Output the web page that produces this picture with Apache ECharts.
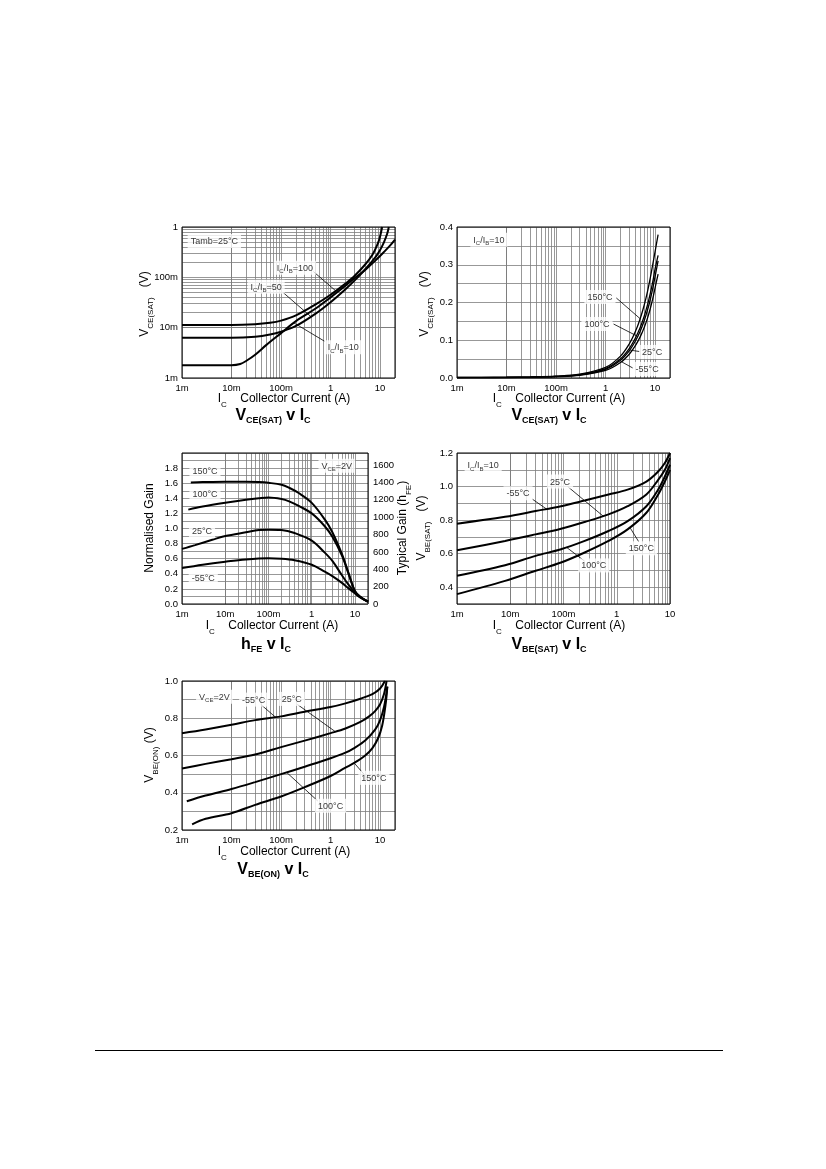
<!DOCTYPE html>
<html>
<head>
<meta charset="utf-8">
<title>Typical characteristics</title>
<script src="https://cdn.jsdelivr.net/npm/echarts@6/dist/echarts.min.js"></script>
<style>
  html, body { margin: 0; padding: 0; background: #fff; }
  #page { width: 826px; height: 1169px; }
</style>
</head>
<body>
<div id="page"></div>
<script>
const FONT = "'Liberation Sans', Arial, Helvetica, sans-serif";

// VCE(SAT) v IC at Tamb=25°C, one curve per IC/IB ratio
const satIb100I = [0.001, 0.01, 0.03, 0.06, 0.1, 0.2, 0.5, 1, 2, 3, 5, 7, 9, 10, 11];
const satIb100V = [0.0113, 0.0113, 0.0117, 0.0125, 0.0138, 0.0175, 0.029, 0.045, 0.075, 0.105, 0.18, 0.28, 0.47, 0.65, 1.0];
const satIb50I = [0.001, 0.01, 0.03, 0.06, 0.1, 0.2, 0.5, 1, 2, 3, 5, 8, 10, 12, 14, 15];
const satIb50V = [0.0063, 0.0063, 0.0066, 0.0073, 0.0083, 0.0108, 0.019, 0.032, 0.058, 0.085, 0.145, 0.25, 0.35, 0.5, 0.75, 1.0];
const satIb10I = [0.001, 0.01, 0.015, 0.02, 0.03, 0.05, 0.1, 0.2, 0.5, 1, 2, 3, 5, 8, 12, 16, 20];
const satIb10V = [0.0018, 0.0018, 0.0019, 0.0022, 0.0029, 0.0045, 0.0078, 0.0135, 0.024, 0.04, 0.068, 0.095, 0.14, 0.215, 0.32, 0.43, 0.56];

// VCE(SAT) v IC at IC/IB=10, one curve per temperature
const satTempI = [0.001, 0.003, 0.01, 0.03, 0.1, 0.3, 1, 2, 3, 4, 5, 6, 7, 8, 9, 10, 11.5];
const sat150V = [0.0015, 0.0017, 0.002, 0.003, 0.005, 0.010, 0.028, 0.058, 0.09, 0.123, 0.157, 0.192, 0.228, 0.265, 0.302, 0.335, 0.38];
const sat100V = [0.0013, 0.0015, 0.0018, 0.0026, 0.0045, 0.009, 0.025, 0.051, 0.078, 0.106, 0.134, 0.163, 0.193, 0.224, 0.256, 0.289, 0.325];
const sat25V = [0.001, 0.0012, 0.0015, 0.0022, 0.004, 0.008, 0.023, 0.047, 0.072, 0.098, 0.124, 0.151, 0.179, 0.208, 0.238, 0.269, 0.31];
const satM55V = [0.0008, 0.001, 0.0013, 0.0019, 0.0035, 0.007, 0.02, 0.041, 0.063, 0.086, 0.109, 0.133, 0.158, 0.184, 0.211, 0.239, 0.275];

// hFE v IC (normalised gain, left axis)
const gain150I = [0.0016, 0.003, 0.01, 0.03, 0.06, 0.1, 0.2, 0.3, 0.5, 1, 2, 3, 5, 7, 10, 13, 20];
const gain150 = [1.61, 1.615, 1.62, 1.62, 1.615, 1.605, 1.58, 1.54, 1.47, 1.34, 1.12, 0.95, 0.66, 0.42, 0.17, 0.1, 0.03];
const gain100I = [0.0014, 0.003, 0.01, 0.03, 0.06, 0.1, 0.2, 0.3, 0.5, 1, 2, 3, 5, 7, 10, 13, 20];
const gain100 = [1.25, 1.29, 1.34, 1.38, 1.40, 1.41, 1.39, 1.36, 1.30, 1.2, 1.03, 0.89, 0.64, 0.41, 0.17, 0.1, 0.03];
const gain25I = [0.001, 0.002, 0.005, 0.01, 0.03, 0.06, 0.1, 0.2, 0.4, 1, 2, 3, 5, 7, 10, 13, 20];
const gain25 = [0.73, 0.78, 0.85, 0.9, 0.95, 0.98, 0.985, 0.98, 0.94, 0.84, 0.68, 0.57, 0.38, 0.26, 0.15, 0.09, 0.03];
const gainM55I = [0.001, 0.003, 0.01, 0.03, 0.1, 0.2, 0.4, 1, 2, 3, 5, 7, 10, 13, 20];
const gainM55 = [0.475, 0.52, 0.56, 0.59, 0.605, 0.6, 0.58, 0.52, 0.43, 0.37, 0.28, 0.21, 0.14, 0.09, 0.03];

// VBE(SAT) v IC at IC/IB=10
const beSatI = [0.001, 0.008, 0.03, 0.09, 0.25, 0.7, 1.6, 3.6, 6, 8, 10];
const beSatM55 = [0.779, 0.82, 0.854, 0.883, 0.917, 0.953, 0.982, 1.03, 1.09, 1.14, 1.2];
const beSat25 = [0.62, 0.676, 0.715, 0.749, 0.789, 0.834, 0.883, 0.953, 1.04, 1.10, 1.17];
const beSat100 = [0.468, 0.531, 0.587, 0.626, 0.676, 0.735, 0.794, 0.883, 0.982, 1.06, 1.13];
const beSat150 = [0.359, 0.438, 0.498, 0.547, 0.607, 0.676, 0.745, 0.844, 0.953, 1.03, 1.10];

// VBE(ON) v IC at VCE=2V
const beOnM55I = [0.001, 0.003, 0.01, 0.03, 0.1, 0.3, 1, 2, 4, 7, 10, 12.5];
const beOnM55 = [0.72, 0.74, 0.765, 0.79, 0.81, 0.835, 0.86, 0.88, 0.905, 0.93, 0.96, 1.0];
const beOn25I = [0.001, 0.003, 0.01, 0.03, 0.1, 0.3, 1, 2, 4, 6, 8, 10, 12, 13.5];
const beOn25 = [0.53, 0.555, 0.58, 0.605, 0.645, 0.68, 0.72, 0.745, 0.78, 0.81, 0.84, 0.875, 0.93, 1.0];
const beOn100I = [0.00125, 0.003, 0.01, 0.03, 0.1, 0.3, 1, 2, 3, 5, 8, 10, 12, 14];
const beOn100 = [0.354, 0.385, 0.42, 0.457, 0.50, 0.54, 0.585, 0.615, 0.64, 0.68, 0.74, 0.79, 0.86, 0.97];
const beOn150I = [0.0016, 0.003, 0.01, 0.03, 0.1, 0.3, 1, 2, 3, 5, 7, 9, 11, 13, 14];
const beOn150 = [0.23, 0.26, 0.29, 0.335, 0.38, 0.43, 0.49, 0.535, 0.56, 0.6, 0.64, 0.69, 0.76, 0.88, 0.97];

// decade tick labels on the current / voltage log axes
const decadeNames = { "-3": "1m", "-2": "10m", "-1": "100m", "0": "1", "1": "10" };

const GRID_LINE = { color: "#7d7d7d", width: 0.8, type: "solid" };

const pairs = (xs, ys) => xs.map((x, i) => [x, ys[i]]);

function decadeLabel(v) {
  const e = Math.log10(v);
  const r = Math.round(e);
  if (Math.abs(e - r) > 1e-6) {
    return "";
  }
  return decadeNames[String(r)] ?? "";
}

// 2..9 lines inside every decade between 1m and max
function minorLog(max) {
  const out = [];
  for (let k = -3; k <= 1; k++) {
    for (let m = 2; m <= 9; m++) {
      const v = m * Math.pow(10, k);
      if (v < max * 0.999) {
        out.push(v);
      }
    }
  }
  return out;
}

const tickLabel = { fontSize: 9.5, color: "#000", fontFamily: FONT };

function logX(gi, max) {
  return {
    type: "log", logBase: 10, gridIndex: gi, min: 0.001, max,
    axisLine: { show: false }, axisTick: { show: false },
    axisLabel: { ...tickLabel, margin: 5, formatter: decadeLabel, showMinLabel: true, showMaxLabel: true },
    splitLine: { show: true, lineStyle: GRID_LINE },
  };
}

function linY(gi, min, max, interval, formatter, minorSplit, extra = {}) {
  return {
    type: "value", gridIndex: gi, min, max, interval,
    axisLine: { show: false }, axisTick: { show: false },
    axisLabel: { ...tickLabel, margin: 4, formatter },
    splitLine: { show: true, lineStyle: GRID_LINE },
    minorTick: { show: false, splitNumber: minorSplit || 1 },
    minorSplitLine: { show: Boolean(minorSplit), lineStyle: GRID_LINE },
    ...extra,
  };
}

// label only every second tenth, from a given lowest value
const evenTenths = (lowest) => (v) =>
  (Math.round(v * 10) % 2 === 0 && v > lowest - 0.01 ? v.toFixed(1) : "");

function curve(xs, ys, xi, yi, width = 2) {
  return {
    type: "line", xAxisIndex: xi, yAxisIndex: yi, data: pairs(xs, ys),
    symbol: "none", smooth: 0.35, silent: true, zlevel: 1, z: 3,
    lineStyle: { color: "#000", width },
  };
}

function minorGrid(xi, yi, anchor, xMax, yLogMax) {
  const lines = minorLog(xMax).map((v) => ({ xAxis: v }));
  if (yLogMax) {
    minorLog(yLogMax).forEach((v) => lines.push({ yAxis: v }));
  }
  return {
    type: "line", xAxisIndex: xi, yAxisIndex: yi, data: [anchor], symbol: "none",
    lineStyle: { opacity: 0 }, silent: true, zlevel: 0, z: 1,
    markLine: {
      silent: true, symbol: ["none", "none"], zlevel: 0, z: 1, animation: false,
      label: { show: false }, lineStyle: GRID_LINE, data: lines,
    },
  };
}

const noteRich = {
  n: { fontSize: 9, fontFamily: FONT, color: "#000", lineHeight: 13 },
  s: { fontSize: 6, fontFamily: FONT, color: "#000", lineHeight: 13, verticalAlign: "bottom" },
};

function notes(xi, yi, items, leaders = []) {
  return {
    type: "scatter", xAxisIndex: xi, yAxisIndex: yi, symbolSize: 1,
    itemStyle: { color: "rgba(0,0,0,0)" }, silent: true, zlevel: 2, z: 6,
    label: {
      show: true, position: "inside", backgroundColor: "#fff", padding: [1, 3, 0, 3],
      rich: noteRich, formatter: (p) => p.data.text,
    },
    data: items.map(([x, y, text]) => ({ value: [x, y], text })),
    markLine: {
      silent: true, symbol: ["none", "none"], zlevel: 2, z: 4, animation: false,
      label: { show: false }, lineStyle: { color: "#000", width: 0.8, type: "solid" },
      data: leaders.map(([a, b]) => [{ coord: a }, { coord: b }]),
    },
  };
}

const nameRich = {
  m: { fontSize: 12, fontFamily: FONT, fill: "#000", color: "#000", lineHeight: 20 },
  s: { fontSize: 8, fontFamily: FONT, fill: "#000", color: "#000", lineHeight: 20, verticalAlign: "bottom" },
};
const titleRich = {
  m: { fontSize: 16, fontWeight: "bold", fontFamily: FONT, fill: "#000", color: "#000", lineHeight: 19 },
  s: { fontSize: 9, fontWeight: "bold", fontFamily: FONT, fill: "#000", color: "#000", lineHeight: 19, verticalAlign: "bottom" },
};

function text(x, y, str, rich, rotate = false) {
  return {
    type: "text", x, y, rotation: rotate ? Math.PI / 2 : 0, silent: true,
    style: {
      text: str, rich, fill: "#000", fontFamily: FONT,
      align: "center", verticalAlign: "middle", textAlign: "center", textVerticalAlign: "middle",
    },
  };
}

const xName = "{m|I}{s|C}{m|    Collector Current (A)}";

const chart = echarts.init(document.getElementById("page"), null, { renderer: "canvas" });
chart.setOption({
  animation: false,
  backgroundColor: "#fff",
  grid: [
    { left: 182, top: 227, width: 213, height: 151 },
    { left: 457, top: 227, width: 213, height: 151 },
    { left: 182, top: 453, width: 186, height: 151 },
    { left: 457, top: 453, width: 213, height: 151 },
    { left: 182, top: 681, width: 213, height: 149 },
  ].map((g) => ({ ...g, show: true, borderColor: "#000", borderWidth: 1, backgroundColor: "transparent", zlevel: 2, z: 8 })),
  xAxis: [logX(0, 20), logX(1, 20), logX(2, 20), logX(3, 10), logX(4, 20)],
  yAxis: [
    {
      type: "log", logBase: 10, gridIndex: 0, min: 0.001, max: 1,
      axisLine: { show: false }, axisTick: { show: false },
      axisLabel: { ...tickLabel, margin: 4, formatter: decadeLabel },
      splitLine: { show: true, lineStyle: GRID_LINE },
    },
    linY(1, 0, 0.4, 0.1, (v) => v.toFixed(1), 2),
    linY(2, 0, 2.0, 0.2, (v) => (v > 1.95 ? "" : v.toFixed(1)), 2),
    linY(2, 0, 1740, 200, (v) => (v % 200 === 0 ? String(v) : ""), 0, {
      position: "right", splitLine: { show: false }, minorSplitLine: { show: false },
      axisLabel: { ...tickLabel, margin: 5, formatter: (v) => (v % 200 === 0 ? String(v) : "") },
    }),
    linY(3, 0.3, 1.2, 0.1, evenTenths(0.4), 0),
    linY(4, 0.2, 1.0, 0.1, evenTenths(0.2), 0),
  ],
  series: [
    // VCE(SAT) v IC, Tamb=25°C
    minorGrid(0, 0, [1, 0.001], 20, 1),
    curve(satIb100I, satIb100V, 0, 0),
    curve(satIb50I, satIb50V, 0, 0),
    curve(satIb10I, satIb10V, 0, 0),
    notes(0, 0, [
      [0.0045, 0.53, "{n|Tamb=25°C}"],
      [0.19, 0.155, "{n|I}{s|C}{n|/I}{s|B}{n|=100}"],
      [0.05, 0.065, "{n|I}{s|C}{n|/I}{s|B}{n|=50}"],
      [1.8, 0.0041, "{n|I}{s|C}{n|/I}{s|B}{n|=10}"],
    ], [
      [[0.45, 0.13], [1.3, 0.053]],
      [[0.11, 0.05], [0.4, 0.0166]],
      [[0.75, 0.0054], [0.18, 0.0125]],
    ]),

    // VCE(SAT) v IC, IC/IB=10
    minorGrid(1, 1, [1, 0], 20),
    curve(satTempI, sat150V, 1, 1, 1.3),
    curve(satTempI, sat100V, 1, 1, 1.3),
    curve(satTempI, sat25V, 1, 1, 1.3),
    curve(satTempI, satM55V, 1, 1, 1.3),
    notes(1, 1, [
      [0.0044, 0.366, "{n|I}{s|C}{n|/I}{s|B}{n|=10}"],
      [0.77, 0.2146, "{n|150°C}"],
      [0.67, 0.143, "{n|100°C}"],
      [8.7, 0.069, "{n|25°C}"],
      [6.9, 0.024, "{n|-55°C}"],
    ], [
      [[1.65, 0.212], [5, 0.157]],
      [[1.45, 0.143], [4.2, 0.112]],
      [[3.1, 0.074], [4.9, 0.07]],
      [[2.1, 0.043], [3.6, 0.026]],
    ]),

    // hFE v IC
    minorGrid(2, 2, [1, 0], 20),
    curve(gain150I, gain150, 2, 2),
    curve(gain100I, gain100, 2, 2),
    curve(gain25I, gain25, 2, 2),
    curve(gainM55I, gainM55, 2, 2),
    notes(2, 2, [
      [0.0034, 1.76, "{n|150°C}"],
      [0.0034, 1.46, "{n|100°C}"],
      [0.0029, 0.965, "{n|25°C}"],
      [0.0031, 0.34, "{n|-55°C}"],
      [3.8, 1.83, "{n|V}{s|CE}{n|=2V}"],
    ]),

    // VBE(SAT) v IC
    minorGrid(3, 4, [1, 0.3], 10),
    curve(beSatI, beSatM55, 3, 4),
    curve(beSatI, beSat25, 3, 4),
    curve(beSatI, beSat100, 3, 4),
    curve(beSatI, beSat150, 3, 4),
    notes(3, 4, [
      [0.0031, 1.128, "{n|I}{s|C}{n|/I}{s|B}{n|=10}"],
      [0.014, 0.96, "{n|-55°C}"],
      [0.086, 1.03, "{n|25°C}"],
      [2.9, 0.632, "{n|150°C}"],
      [0.37, 0.53, "{n|100°C}"],
    ], [
      [[0.026, 0.925], [0.048, 0.866]],
      [[0.12, 1.0], [0.56, 0.823]],
      [[2.6, 0.67], [1.8, 0.752]],
      [[0.25, 0.555], [0.115, 0.637]],
    ]),

    // VBE(ON) v IC
    minorGrid(4, 5, [1, 0.2], 20),
    curve(beOnM55I, beOnM55, 4, 5),
    curve(beOn25I, beOn25, 4, 5),
    curve(beOn100I, beOn100, 4, 5),
    curve(beOn150I, beOn150, 4, 5),
    notes(4, 5, [
      [0.0045, 0.916, "{n|V}{s|CE}{n|=2V}"],
      [0.028, 0.9, "{n|-55°C}"],
      [0.165, 0.904, "{n|25°C}"],
      [7.5, 0.48, "{n|150°C}"],
      [1.0, 0.33, "{n|100°C}"],
    ], [
      [[0.039, 0.874], [0.078, 0.805]],
      [[0.214, 0.874], [1.25, 0.728]],
      [[4.7, 0.5], [3.0, 0.56]],
      [[0.55, 0.356], [0.13, 0.509]],
    ]),
  ],
  graphic: [
    // VCE(SAT) v IC, Tamb=25°C
    text(145, 304, "{m|V}{s|CE(SAT)}{m|   (V)}", nameRich, true),
    text(284, 399, xName, nameRich),
    text(273, 416, "{m|V}{s|CE(SAT)}{m| v I}{s|C}", titleRich),
    // VCE(SAT) v IC, IC/IB=10
    text(425, 304, "{m|V}{s|CE(SAT)}{m|   (V)}", nameRich, true),
    text(559, 399, xName, nameRich),
    text(549, 416, "{m|V}{s|CE(SAT)}{m| v I}{s|C}", titleRich),
    // hFE v IC
    text(150, 528, "{m|Normalised Gain}", nameRich, true),
    text(403, 528, "{m|Typical Gain (h}{s|FE}{m|)}", nameRich, true),
    text(272, 626, xName, nameRich),
    text(266, 645, "{m|h}{s|FE}{m| v I}{s|C}", titleRich),
    // VBE(SAT) v IC
    text(422, 528, "{m|V}{s|BE(SAT)}{m|   (V)}", nameRich, true),
    text(559, 626, xName, nameRich),
    text(549, 645, "{m|V}{s|BE(SAT)}{m| v I}{s|C}", titleRich),
    // VBE(ON) v IC
    text(150, 755, "{m|V}{s|BE(ON)}{m| (V)}", nameRich, true),
    text(284, 852, xName, nameRich),
    text(273, 870, "{m|V}{s|BE(ON)}{m| v I}{s|C}", titleRich),
    // page footer rule
    {
      type: "line", silent: true,
      shape: { x1: 95, y1: 1050.5, x2: 723, y2: 1050.5 },
      style: { stroke: "#000", lineWidth: 1 },
    },
  ],
});
</script>
</body>
</html>
